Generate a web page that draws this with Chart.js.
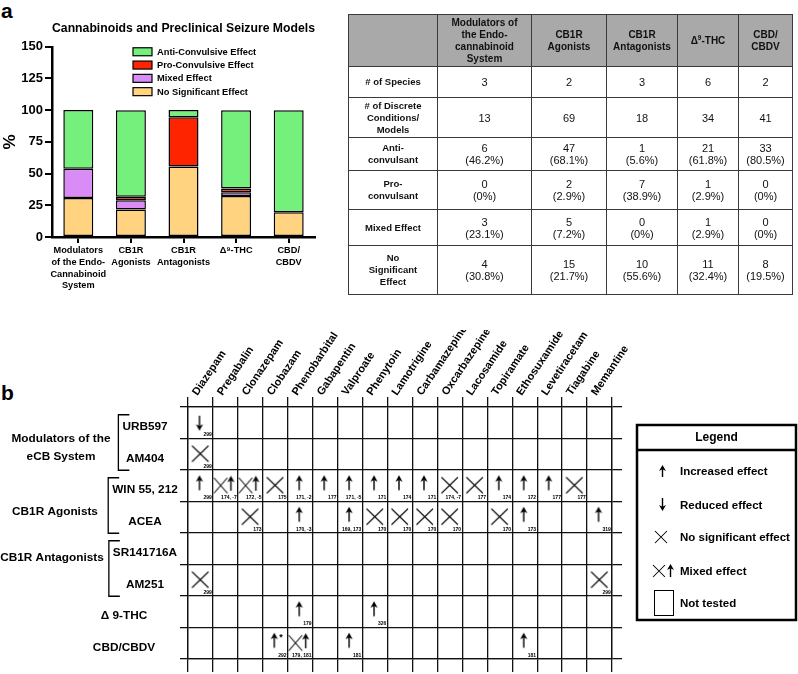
<!DOCTYPE html>
<html><head><meta charset="utf-8">
<script src="https://cdn.jsdelivr.net/npm/chart.js@4.4.1/dist/chart.umd.min.js"></script>
<style>
html,body{margin:0;padding:0;background:#fff;width:798px;height:674px;overflow:hidden;font-family:"Liberation Sans",Arial,Helvetica,sans-serif;color:#000;}
#wrapA{position:absolute;left:0;top:0;width:361px;height:300px;}
#wrapB{position:absolute;left:0;top:330px;width:798px;height:344px;}
.plabel{position:absolute;font-weight:bold;font-size:21px;line-height:21px;}
#tbl{position:absolute;left:348px;top:14px;border-collapse:collapse;table-layout:fixed;width:444px;}
#tbl td,#tbl th{border:1px solid #3a3a3a;text-align:center;vertical-align:middle;padding:0;line-height:12px;color:#111;}
#tbl th{background:#a9a9a9;font-weight:bold;font-size:10px;}
#tbl td{font-size:11px;}
#tbl td.rl{font-weight:bold;font-size:9.5px;}
#tbl sup{font-size:6.5px;vertical-align:4px;line-height:0;}
</style></head>
<body>
<div class="plabel" style="left:1px;top:0px">a</div>
<div class="plabel" style="left:1px;top:382px">b</div>
<div id="wrapA"><canvas id="chartA" width="361" height="300"></canvas></div>
<table id="tbl"></table>
<div id="wrapB"><canvas id="chartB" width="798" height="344"></canvas></div>
<script>
// ---------------- DATA: panel a ----------------
const categories = [['Modulators','of the Endo-','Cannabinoid','System'], ['CB1R','Agonists'], ['CB1R','Antagonists'], 'Δ⁹-THC', ['CBD/','CBDV']];
const tableHeads = [['Modulators of','the Endo-','cannabinoid','System'], ['CB1R','Agonists'], ['CB1R','Antagonists'], ['Δ⁹-THC'], ['CBD/','CBDV']];
const speciesCount = [3, 2, 3, 6, 2];
const conditionsCount = [13, 69, 18, 34, 41];
const antiCount = [6, 47, 1, 21, 33];
const proCount = [0, 2, 7, 1, 0];
const mixedCount = [3, 5, 0, 1, 0];
const nsCount = [4, 15, 10, 11, 8];
const antiPct = [46.2, 68.1, 5.6, 61.8, 80.5];
const proPct = [0, 2.9, 38.9, 2.9, 0];
const mixedPct = [23.1, 7.2, 0, 2.9, 0];
const nsPct = [30.8, 21.7, 55.6, 32.4, 19.5];
const yTicks = [0, 25, 50, 75, 100, 125, 150];

// ---------------- DATA: panel b ----------------
const drugs = ['Diazepam','Pregabalin','Clonazepam','Clobazam','Phenobarbital','Gabapentin','Valproate','Phenytoin','Lamotrigine','Carbamazepine','Oxcarbazepine','Lacosamide','Topiramate','Ethosuxamide','Levetiracetam','Tiagabine','Memantine'];
const compounds = ['URB597','AM404','WIN 55, 212','ACEA','SR141716A','AM251','Δ 9-THC','CBD/CBDV'];
const compoundGroups = [
  {lines:['Modulators of the','eCB System'], members:['URB597','AM404']},
  {lines:['CB1R Agonists'], members:['WIN 55, 212','ACEA']},
  {lines:['CB1R Antagonists'], members:['SR141716A','AM251']}
];
// [compound, drug, reference, note]
const increasedCells = [
  ['WIN 55, 212','Diazepam','299'],
  ['WIN 55, 212','Phenobarbital','171, -2'],
  ['WIN 55, 212','Gabapentin','177'],
  ['WIN 55, 212','Valproate','171, -5'],
  ['WIN 55, 212','Phenytoin','171'],
  ['WIN 55, 212','Lamotrigine','174'],
  ['WIN 55, 212','Carbamazepine','171'],
  ['WIN 55, 212','Topiramate','174'],
  ['WIN 55, 212','Ethosuxamide','172'],
  ['WIN 55, 212','Levetiracetam','177'],
  ['ACEA','Phenobarbital','170, -3'],
  ['ACEA','Valproate','169, 173'],
  ['ACEA','Ethosuxamide','173'],
  ['ACEA','Memantine','319'],
  ['Δ 9-THC','Phenobarbital','179'],
  ['Δ 9-THC','Phenytoin','326'],
  ['CBD/CBDV','Clobazam','292','*'],
  ['CBD/CBDV','Valproate','181'],
  ['CBD/CBDV','Ethosuxamide','181']
];
const reducedCells = [
  ['URB597','Diazepam','299']
];
const noEffectCells = [
  ['AM404','Diazepam','299'],
  ['WIN 55, 212','Clobazam','175'],
  ['WIN 55, 212','Oxcarbazepine','174, -7'],
  ['WIN 55, 212','Lacosamide','177'],
  ['WIN 55, 212','Tiagabine','177'],
  ['ACEA','Clonazepam','173'],
  ['ACEA','Phenytoin','170'],
  ['ACEA','Lamotrigine','170'],
  ['ACEA','Carbamazepine','170'],
  ['ACEA','Oxcarbazepine','170'],
  ['ACEA','Topiramate','170'],
  ['AM251','Diazepam','299'],
  ['AM251','Memantine','299']
];
const mixedCells = [
  ['WIN 55, 212','Pregabalin','174, -7'],
  ['WIN 55, 212','Clonazepam','172, -5'],
  ['CBD/CBDV','Phenobarbital','179, 181']
];
const legendBItems = ['Increased effect','Reduced effect','No significant effect','Mixed effect','Not tested'];

// ---------------- common ----------------
const FF = '"Liberation Sans", Arial, Helvetica, sans-serif';
Chart.defaults.font.family = FF;
Chart.defaults.color = '#000';

// ---------------- table ----------------
(function buildTable(){
  const fmt = p => (p === 0 ? '0' : p.toFixed(1)) + '%';
  const html = s => s.replace('⁹','<sup>9</sup>');
  const widths = [89, 94, 75, 71, 61, 54];
  let h = '<colgroup>' + widths.map(w=>'<col style="width:'+w+'px">').join('') + '</colgroup>';
  h += '<tr style="height:52px"><th></th>' + tableHeads.map(l=>'<th>'+html(l.join('<br>'))+'</th>').join('') + '</tr>';
  const rows = [
    [['# of Species'], speciesCount, null, 31],
    [['# of Discrete','Conditions/','Models'], conditionsCount, null, 40],
    [['Anti-','convulsant'], antiCount, antiPct, 33],
    [['Pro-','convulsant'], proCount, proPct, 39],
    [['Mixed Effect'], mixedCount, mixedPct, 36],
    [['No','Significant','Effect'], nsCount, nsPct, 49]
  ];
  rows.forEach(([lab, cnt, pct, ht])=>{
    h += '<tr style="height:'+ht+'px"><td class="rl">'+lab.join('<br>')+'</td>';
    cnt.forEach((c,i)=>{ h += '<td>' + c + (pct ? '<br>(' + fmt(pct[i]) + ')' : '') + '</td>'; });
    h += '</tr>';
  });
  document.getElementById('tbl').innerHTML = h;
})();

// ---------------- chart a ----------------
const legendA = {
  id:'legendA',
  afterDraw(chart){
    const {ctx, chartArea:a} = chart;
    const items = chart.data.datasets.slice().reverse();
    ctx.save();
    ctx.font = 'bold 9.3px ' + FF;
    ctx.textBaseline = 'middle';
    ctx.textAlign = 'left';
    items.forEach((ds,i)=>{
      const y = a.top + 5 + i*13.3;
      const x = a.left + 81;
      ctx.fillStyle = ds.backgroundColor;
      ctx.fillRect(x, y-4, 19, 8);
      ctx.lineWidth = 1.2; ctx.strokeStyle = '#000';
      ctx.strokeRect(x, y-4, 19, 8);
      ctx.fillStyle = '#000';
      ctx.fillText(ds.label, x+24, y+0.5);
    });
    ctx.restore();
  }
};
const barCommon = {borderColor:'#000', borderWidth:1.5, borderSkipped:false, barPercentage:0.57, categoryPercentage:1.0};
new Chart(document.getElementById('chartA'), {
  type:'bar',
  data:{
    labels: categories,
    datasets:[
      Object.assign({label:'No Significant Effect', data:nsPct, backgroundColor:'#FFD37F'}, barCommon),
      Object.assign({label:'Mixed Effect', data:mixedPct, backgroundColor:'#D98CF6'}, barCommon),
      Object.assign({label:'Pro-Convulsive Effect', data:proPct, backgroundColor:'#FF2400'}, barCommon),
      Object.assign({label:'Anti-Convulsive Effect', data:antiPct, backgroundColor:'#75F07C'}, barCommon)
    ]
  },
  options:{
    responsive:false, animation:false, devicePixelRatio:1, events:[],
    layout:{padding:{top:10,left:0,right:46,bottom:0}},
    plugins:{
      legend:{display:false}, tooltip:{enabled:false},
      title:{display:true, fullSize:false, text:'Cannabinoids and Preclinical Seizure Models', color:'#000', font:{size:13.3, weight:'bold'}, padding:{top:10,bottom:10.8}}
    },
    scales:{
      x:{stacked:true,
         grid:{offset:false, drawOnChartArea:false, drawTicks:true, tickLength:6, color:'#000', lineWidth:2},
         border:{display:true, color:'#000', width:2.5},
         ticks:{color:'#000', font:{size:9.2, weight:'bold', lineHeight:1.26}, padding:2, maxRotation:0, autoSkip:false},
         afterFit(s){ s.height = 63; }},
      y:{stacked:true, min:0, max:150,
         afterBuildTicks(s){ s.ticks = yTicks.map(v=>({value:v})); },
         grid:{drawOnChartArea:false, drawTicks:true, tickLength:7, color:'#000', lineWidth:2},
         border:{display:true, color:'#000', width:2.5},
         ticks:{color:'#000', font:{size:13, weight:'bold'}, padding:2},
         title:{display:true, text:'%', color:'#000', font:{size:17, weight:'bold'}, padding:0},
         afterFit(s){ s.width = 52; }}
    }
  },
  plugins:[legendA]
});

// ---------------- chart b ----------------
function markCanvas(draw){
  const c = document.createElement('canvas'); c.width = 26; c.height = 32;
  const g = c.getContext('2d'); g.fillStyle = g.strokeStyle = '#000';
  draw(g, 13, 16); return c;
}
function upArrow(g, x, yTop, yBot, hw, hh){
  hw = hw || 3.6; hh = hh || 6.5;
  g.lineWidth = 1.4; g.beginPath(); g.moveTo(x, yTop+hh-2); g.lineTo(x, yBot); g.stroke();
  g.beginPath(); g.moveTo(x, yTop); g.lineTo(x+hw, yTop+hh); g.lineTo(x, yTop+hh-1.8); g.lineTo(x-hw, yTop+hh); g.closePath(); g.fill();
}
function downArrow(g, x, yTop, yBot, hw, hh){
  hw = hw || 3.6; hh = hh || 6.5;
  g.lineWidth = 1.4; g.beginPath(); g.moveTo(x, yTop); g.lineTo(x, yBot-hh+2); g.stroke();
  g.beginPath(); g.moveTo(x, yBot); g.lineTo(x+hw, yBot-hh); g.lineTo(x, yBot-hh+1.8); g.lineTo(x-hw, yBot-hh); g.closePath(); g.fill();
}
function xMark(g, x0, y0, x1, y1){
  g.lineWidth = 1.05; g.beginPath(); g.moveTo(x0,y0); g.lineTo(x1,y1); g.moveTo(x1,y0); g.lineTo(x0,y1); g.stroke();
}
const MARKS = {
  up: markCanvas((g,cx,cy)=>upArrow(g, cx-1, cy-10.5, cy+4.5)),
  down: markCanvas((g,cx,cy)=>downArrow(g, cx-1, cy-7, cy+8)),
  none: markCanvas((g,cx,cy)=>xMark(g, cx-8.5, cy-8.5, cx+8, cy+7.5)),
  mixed: markCanvas((g,cx,cy)=>{ xMark(g, cx-11.5, cy-8, cx+2, cy+7.5); upArrow(g, cx+5.5, cy-10, cy+5); })
};
const toPts = cells => cells.map(([c,d,ref,note])=>({x:d, y:c, ref:ref, note:note}));

const LINE = '#111';
const labelsB = {
  id:'labelsB',
  afterDraw(chart){
    const {ctx, chartArea:a, scales} = chart;
    const xs = scales.x, ys = scales.y;
    const colW = xs.getPixelForValue(1) - xs.getPixelForValue(0);
    const rowH = ys.getPixelForValue(1) - ys.getPixelForValue(0);
    ctx.save();
    ctx.fillStyle = '#000'; ctx.strokeStyle = '#000';
    // drug labels (rotated)
    ctx.font = 'bold 11px ' + FF; ctx.textAlign = 'left'; ctx.textBaseline = 'alphabetic';
    drugs.forEach((d,i)=>{
      const x = xs.getPixelForValue(i);
      ctx.save(); ctx.translate(x-3, a.top-11); ctx.rotate(-56*Math.PI/180); ctx.fillText(d, 0, 0); ctx.restore();
    });
    // compound labels
    ctx.font = 'bold 11.8px ' + FF; ctx.textAlign = 'center'; ctx.textBaseline = 'middle';
    const grouped = new Set(compoundGroups.flatMap(g=>g.members));
    const labX = c => grouped.has(c) ? 145 : 124;
    compounds.forEach((c,i)=>{ ctx.fillText(c, labX(c), ys.getPixelForValue(i) + 4); });
    // group labels and brackets
    const groupX = [61, 55, 52], groupDY = [9.5, 10.5, -6.5];
    compoundGroups.forEach((g,gi)=>{
      const idx = g.members.map(m=>compounds.indexOf(m));
      const y0 = ys.getPixelForValue(idx[0]), y1 = ys.getPixelForValue(idx[idx.length-1]);
      const yc = (y0+y1)/2 + groupDY[gi];
      g.lines.forEach((ln,li)=>{ ctx.fillText(ln, groupX[gi], yc + (li - (g.lines.length-1)/2)*18); });
      const left = Math.min(...g.members.map(m=>labX(m) - ctx.measureText(m).width/2)) - 4;
      ctx.lineWidth = 1.3; ctx.beginPath();
      ctx.moveTo(left+11, y0-8); ctx.lineTo(left, y0-8); ctx.lineTo(left, y1+16); ctx.lineTo(left+11, y1+16); ctx.stroke();
    });
    // references
    chart.data.datasets.forEach((ds,di)=>{
      const meta = chart.getDatasetMeta(di);
      meta.data.forEach((el,j)=>{
        const p = ds.data[j];
        ctx.font = 'bold 5px ' + FF; ctx.textAlign = 'right'; ctx.textBaseline = 'alphabetic';
        ctx.fillText(p.ref, el.x + colW/2 - 1.2, el.y + rowH/2 - 2.5);
        if (p.note){ ctx.font = 'bold 9px ' + FF; ctx.textAlign = 'left'; ctx.fillText(p.note, el.x + 4, el.y - 3); }
      });
    });
    // legend box
    const L = 637, T = 95, R = 796, B = 290;
    ctx.lineWidth = 2.5; ctx.strokeRect(L, T, R-L, B-T);
    ctx.beginPath(); ctx.moveTo(L, T+25); ctx.lineTo(R, T+25); ctx.stroke();
    ctx.font = 'bold 12px ' + FF; ctx.textAlign = 'center'; ctx.textBaseline = 'middle';
    ctx.fillText('Legend', (L+R)/2, T+13);
    ctx.font = 'bold 11.5px ' + FF; ctx.textAlign = 'left';
    const ly = [141, 175, 207, 241, 273];
    legendBItems.forEach((t,i)=>{ ctx.fillText(t, 680, ly[i]+1); });
    upArrow(ctx, 662.5, ly[0]-6, ly[0]+6, 3.5, 6);
    downArrow(ctx, 662.5, ly[1]-7, ly[1]+6, 3.5, 6);
    xMark(ctx, 655, ly[2]-6, 667, ly[2]+6);
    xMark(ctx, 653, ly[3]-6, 665, ly[3]+6);
    upArrow(ctx, 670.5, ly[3]-7, ly[3]+6, 3.5, 6);
    ctx.lineWidth = 1; ctx.strokeRect(654.5, ly[4]-12.5, 19, 25);
    ctx.restore();
  }
};
const gridOpt = (len, onArea) => ({offset:true, drawOnChartArea:onArea, drawTicks:true, tickLength:len, color:LINE, lineWidth:1.3});
new Chart(document.getElementById('chartB'), {
  type:'scatter',
  data:{datasets:[
    {label:'Increased effect', data:toPts(increasedCells), pointStyle:MARKS.up, pointRadius:12},
    {label:'Reduced effect', data:toPts(reducedCells), pointStyle:MARKS.down, pointRadius:12},
    {label:'No significant effect', data:toPts(noEffectCells), pointStyle:MARKS.none, pointRadius:12},
    {label:'Mixed effect', data:toPts(mixedCells), pointStyle:MARKS.mixed, pointRadius:12}
  ]},
  options:{
    responsive:false, animation:false, devicePixelRatio:1, events:[],
    layout:{padding:{left:180, right:176, top:67, bottom:2}},
    plugins:{legend:{display:false}, tooltip:{enabled:false}, title:{display:false}},
    scales:{
      x:{type:'category', position:'top', labels:drugs, offset:true, grid:gridOpt(10, true), border:{display:true, color:LINE, width:1.3}, ticks:{display:false}},
      xb:{type:'category', position:'bottom', labels:drugs, offset:true, grid:gridOpt(13, false), border:{display:true, color:LINE, width:1.3}, ticks:{display:false}},
      y:{type:'category', position:'left', labels:compounds, offset:true, grid:gridOpt(8, true), border:{display:true, color:LINE, width:1.3}, ticks:{display:false}},
      yr:{type:'category', position:'right', labels:compounds, offset:true, grid:gridOpt(10, false), border:{display:true, color:LINE, width:1.3}, ticks:{display:false}}
    }
  },
  plugins:[labelsB]
});
</script>
</body></html>
